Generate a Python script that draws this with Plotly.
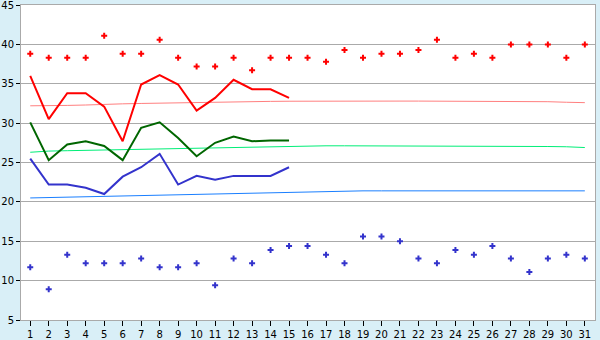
import plotly.graph_objects as go

days = list(range(1, 32))
days15 = list(range(1, 16))

red_points = [38.8, 38.3, 38.3, 38.3, 41.1, 38.8, 38.8, 40.6, 38.3, 37.2, 37.2, 38.3, 36.7, 38.3, 38.3, 38.3,
              37.8, 39.3, 38.3, 38.8, 38.8, 39.3, 40.6, 38.3, 38.8, 38.3, 40.0, 40.0, 40.0, 38.3, 40.0]
blue_points = [11.7, 8.9, 13.3, 12.2, 12.2, 12.2, 12.8, 11.7, 11.7, 12.2, 9.4, 12.8, 12.2, 13.9, 14.4, 14.4,
               13.3, 12.2, 15.6, 15.6, 15.0, 12.8, 12.2, 13.9, 13.3, 14.4, 12.8, 11.1, 12.8, 13.3, 12.8]

red_line = [36.0, 30.5, 33.8, 33.8, 32.1, 27.7, 34.9, 36.1, 34.9, 31.6, 33.2, 35.5, 34.3, 34.3, 33.2]
green_line = [30.1, 25.3, 27.3, 27.7, 27.1, 25.3, 29.4, 30.1, 28.1, 25.8, 27.5, 28.3, 27.7, 27.8, 27.8]
blue_line = [25.5, 22.2, 22.2, 21.8, 21.0, 23.2, 24.4, 26.1, 22.2, 23.3, 22.8, 23.3, 23.3, 23.3, 24.4]

pink_norm = [32.2, 32.2, 32.25, 32.3, 32.4, 32.45, 32.5, 32.55, 32.6, 32.65, 32.7, 32.72, 32.74, 32.76, 32.78,
             32.8, 32.8, 32.8, 32.8, 32.8, 32.8, 32.8, 32.8, 32.8, 32.8, 32.8, 32.78, 32.75, 32.72, 32.65, 32.6]
green_norm = [26.3, 26.45, 26.5, 26.55, 26.6, 26.65, 26.7, 26.75, 26.8, 26.85, 26.9, 26.95, 27.0, 27.05, 27.1,
              27.12, 27.12, 27.12, 27.12, 27.12, 27.12, 27.12, 27.12, 27.12, 27.12, 27.12, 27.1, 27.05, 27.03, 27.0, 26.9]
blue_norm = [20.5, 20.55, 20.62, 20.68, 20.74, 20.78, 20.82, 20.86, 20.9, 20.96, 21.02, 21.08, 21.14, 21.2, 21.25,
             21.3, 21.38, 21.4, 21.4, 21.4, 21.4, 21.4, 21.4, 21.4, 21.4, 21.4, 21.4, 21.4, 21.4, 21.4, 21.4]

y_ticks = [5, 10, 15, 20, 25, 30, 35, 40, 45]

fig = go.Figure()
fig.add_trace(go.Scatter(x=days, y=pink_norm, mode="lines", line=dict(color="#ff7f7f", width=1)))
fig.add_trace(go.Scatter(x=days, y=green_norm, mode="lines", line=dict(color="#00ee77", width=1)))
fig.add_trace(go.Scatter(x=days, y=blue_norm, mode="lines", line=dict(color="#1a7fff", width=1)))
fig.add_trace(go.Scatter(x=days15, y=red_line, mode="lines", line=dict(color="#ff0000", width=2)))
fig.add_trace(go.Scatter(x=days15, y=green_line, mode="lines", line=dict(color="#006600", width=2)))
fig.add_trace(go.Scatter(x=days15, y=blue_line, mode="lines", line=dict(color="#3333cc", width=2)))
fig.add_trace(go.Scatter(x=days, y=red_points, mode="markers",
                         marker=dict(symbol="cross", size=5, color="#ff0000", line=dict(width=0))))
fig.add_trace(go.Scatter(x=days, y=blue_points, mode="markers",
                         marker=dict(symbol="cross", size=5, color="#3333cc", line=dict(width=0))))

fig.update_layout(
    width=600, height=340,
    margin=dict(l=21, r=5, t=5, b=20),
    paper_bgcolor="#d9eff7",
    plot_bgcolor="#ffffff",
    showlegend=False,
    font=dict(family="DejaVu Sans", size=10, color="#000000"),
)
fig.update_xaxes(range=[0.5, 31.55], tickmode="array", tickvals=days, ticktext=[str(d) for d in days],
                 showgrid=False, zeroline=False, showline=True, linecolor="#aaaaaa", linewidth=1, mirror=True,
                 ticks="outside", ticklen=5, tickcolor="#000000", tickwidth=1, automargin=False,
                 ticklabeloverflow="allow")
fig.update_yaxes(range=[5, 45], tickmode="array", tickvals=y_ticks, ticktext=[str(v) for v in y_ticks],
                 showgrid=True, gridcolor="#aaaaaa", gridwidth=1, zeroline=False,
                 showline=True, linecolor="#aaaaaa", linewidth=1, mirror=True,
                 ticks="outside", ticklen=4, tickcolor="#000000", tickwidth=1, automargin=False,
                 ticklabeloverflow="allow")

fig.write_html("out.html")
